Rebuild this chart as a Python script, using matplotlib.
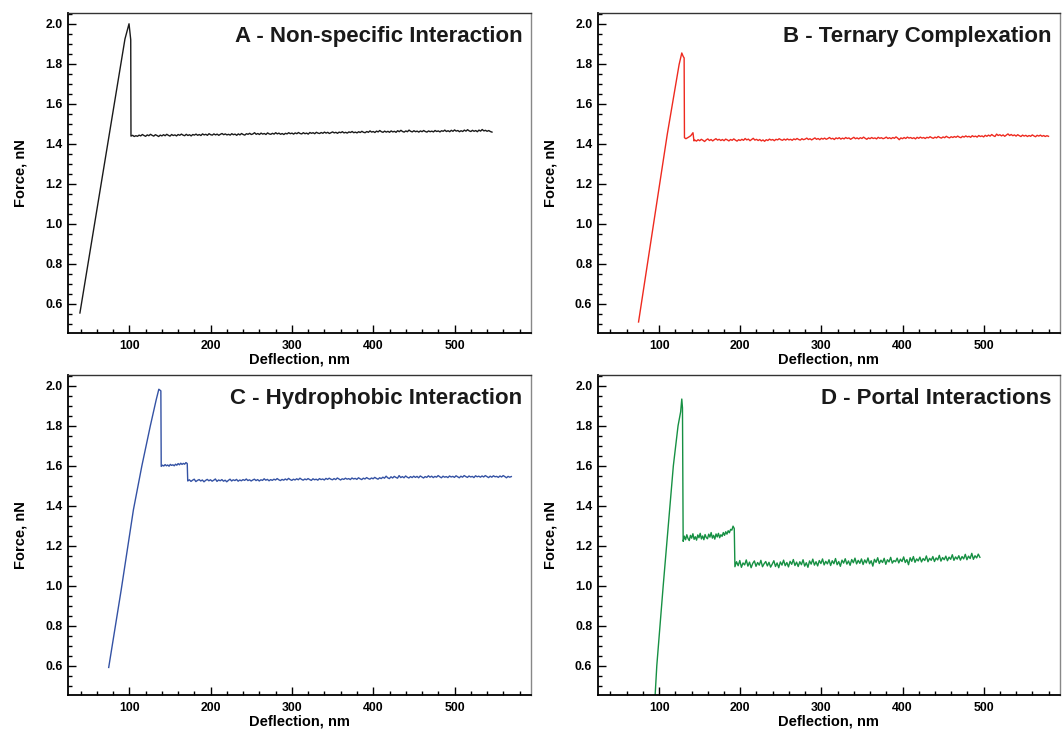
import numpy as np
import matplotlib
matplotlib.use("Agg")
from matplotlib import pyplot as plt
from matplotlib.ticker import MultipleLocator

plt.rcParams['font.family'] = ['Liberation Sans', 'DejaVu Sans']

# ---- panel A: non-specific interaction ----
a_ramp_x = [39.2, 94.6, 99.6, 101.7]
a_ramp_y = [0.553, 1.924, 2.0, 1.92]
a_flat_start, a_flat_step = 102, 2
a_flat_y = [
    1.438, 1.442, 1.436, 1.440, 1.437, 1.443, 1.439, 1.446, 1.441, 1.437, 1.444, 1.440, 1.447, 1.442, 1.438, 1.445, 1.441, 1.436, 1.443, 1.439,
    1.445, 1.440, 1.447, 1.442, 1.438, 1.446, 1.441, 1.444, 1.439, 1.446, 1.442, 1.448, 1.443, 1.440, 1.447, 1.441, 1.445, 1.439, 1.446, 1.443,
    1.448, 1.442, 1.446, 1.441, 1.449, 1.444, 1.447, 1.442, 1.450, 1.445, 1.443, 1.449, 1.444, 1.448, 1.442, 1.447, 1.451, 1.445, 1.449, 1.444,
    1.447, 1.443, 1.450, 1.445, 1.448, 1.442, 1.449, 1.444, 1.451, 1.446, 1.443, 1.450, 1.447, 1.452, 1.446, 1.449, 1.455, 1.447, 1.451, 1.446,
    1.453, 1.448, 1.451, 1.446, 1.454, 1.449, 1.447, 1.452, 1.448, 1.455, 1.449, 1.453, 1.447, 1.451, 1.446, 1.452, 1.449, 1.455, 1.450, 1.453,
    1.448, 1.454, 1.450, 1.456, 1.451, 1.449, 1.455, 1.450, 1.453, 1.448, 1.456, 1.452, 1.455, 1.450, 1.457, 1.453, 1.451, 1.456, 1.452, 1.458,
    1.453, 1.457, 1.451, 1.455, 1.459, 1.454, 1.457, 1.452, 1.458, 1.455, 1.460, 1.454, 1.457, 1.453, 1.459, 1.456, 1.461, 1.455, 1.458, 1.454,
    1.460, 1.456, 1.462, 1.457, 1.455, 1.461, 1.457, 1.464, 1.458, 1.461, 1.456, 1.463, 1.459, 1.466, 1.460, 1.457, 1.463, 1.458, 1.462, 1.457,
    1.464, 1.459, 1.462, 1.457, 1.465, 1.460, 1.467, 1.461, 1.458, 1.464, 1.460, 1.468, 1.462, 1.459, 1.465, 1.460, 1.463, 1.458, 1.464, 1.460,
    1.466, 1.461, 1.458, 1.464, 1.460, 1.463, 1.459, 1.466, 1.461, 1.464, 1.459, 1.465, 1.462, 1.468, 1.461, 1.465, 1.460, 1.467, 1.462, 1.469,
    1.463, 1.466, 1.460, 1.465, 1.461, 1.468, 1.463, 1.470, 1.464, 1.461, 1.467, 1.462, 1.466, 1.460, 1.468, 1.463, 1.471, 1.464, 1.467, 1.462,
    1.466, 1.461, 1.458,
]

# ---- panel B: ternary complexation ----
b_ramp_x = [74.6, 110.0, 124.6, 127.9, 129.6, 130.8, 131.2,
            133.0, 136.0, 139.0, 141.7, 142.9]
b_ramp_y = [0.508, 1.447, 1.796, 1.854, 1.837, 1.829, 1.43,
            1.425, 1.432, 1.440, 1.455, 1.414]
b_flat_start, b_flat_step = 144, 2
b_flat_y = [
    1.418, 1.413, 1.420, 1.415, 1.422, 1.417, 1.411, 1.419, 1.424, 1.416, 1.421, 1.414, 1.420, 1.425, 1.418, 1.422, 1.416, 1.421, 1.415, 1.423,
    1.419, 1.414, 1.421, 1.417, 1.424, 1.418, 1.413, 1.420, 1.416, 1.422, 1.417, 1.426, 1.419, 1.423, 1.415, 1.421, 1.427, 1.418, 1.422, 1.416,
    1.421, 1.414, 1.419, 1.412, 1.420, 1.416, 1.423, 1.418, 1.421, 1.415, 1.422, 1.419, 1.425, 1.420, 1.417, 1.423, 1.418, 1.424, 1.419, 1.422,
    1.417, 1.424, 1.420, 1.426, 1.421, 1.418, 1.425, 1.420, 1.423, 1.428, 1.421, 1.425, 1.419, 1.424, 1.429, 1.422, 1.426, 1.420, 1.427, 1.423,
    1.428, 1.422, 1.426, 1.431, 1.424, 1.427, 1.421, 1.429, 1.425, 1.430, 1.423, 1.428, 1.424, 1.431, 1.426, 1.429, 1.422, 1.427, 1.432, 1.425,
    1.429, 1.424, 1.430, 1.426, 1.433, 1.427, 1.422, 1.429, 1.425, 1.431, 1.426, 1.429, 1.424, 1.432, 1.427, 1.430, 1.425, 1.428, 1.433, 1.426,
    1.430, 1.425, 1.431, 1.427, 1.434, 1.428, 1.420, 1.429, 1.425, 1.431, 1.426, 1.433, 1.428, 1.431, 1.426, 1.430, 1.424, 1.432, 1.427, 1.433,
    1.428, 1.431, 1.426, 1.432, 1.429, 1.435, 1.430, 1.427, 1.433, 1.429, 1.436, 1.431, 1.428, 1.434, 1.430, 1.437, 1.432, 1.429, 1.435, 1.431,
    1.436, 1.432, 1.438, 1.433, 1.430, 1.437, 1.433, 1.439, 1.434, 1.437, 1.432, 1.440, 1.435, 1.438, 1.433, 1.441, 1.436, 1.439, 1.434, 1.442,
    1.437, 1.443, 1.438, 1.446, 1.440, 1.436, 1.448, 1.441, 1.445, 1.439, 1.444, 1.437, 1.443, 1.449, 1.441, 1.446, 1.440, 1.444, 1.438, 1.445,
    1.440, 1.436, 1.443, 1.438, 1.442, 1.436, 1.441, 1.437, 1.444, 1.439, 1.435, 1.442, 1.438, 1.443, 1.437, 1.441, 1.436, 1.440, 1.437,
]

# ---- panel C: hydrophobic interaction ----
c_ramp_x = [74.6, 90.0, 105.0, 115.4, 125.8, 133.0, 136.25, 138.75]
c_ramp_y = [0.591, 0.98, 1.38, 1.6, 1.8, 1.93, 1.983, 1.975]
c_step1_start, c_step1_step = 139.2, 1.6
c_step1_y = [1.597, 1.603, 1.599, 1.606, 1.600, 1.604, 1.598, 1.607, 1.602, 1.605, 1.600,
             1.608, 1.603, 1.611, 1.605, 1.613, 1.607, 1.612, 1.608, 1.616, 1.611]
c_flat_start, c_flat_step = 171.8, 2
c_flat_y = [
    1.524, 1.530, 1.522, 1.528, 1.533, 1.521, 1.527, 1.531, 1.524, 1.529, 1.520, 1.527, 1.532, 1.525, 1.530, 1.523, 1.528, 1.534, 1.522, 1.529,
    1.525, 1.531, 1.523, 1.528, 1.520, 1.527, 1.533, 1.524, 1.530, 1.526, 1.532, 1.523, 1.529, 1.525, 1.531, 1.527, 1.534, 1.526, 1.530, 1.524,
    1.529, 1.533, 1.526, 1.531, 1.524, 1.530, 1.527, 1.535, 1.528, 1.532, 1.525, 1.531, 1.527, 1.533, 1.529, 1.536, 1.530, 1.526, 1.532, 1.528,
    1.534, 1.529, 1.537, 1.531, 1.527, 1.533, 1.529, 1.535, 1.530, 1.538, 1.532, 1.528, 1.534, 1.530, 1.536, 1.531, 1.527, 1.535, 1.530, 1.533,
    1.528, 1.536, 1.531, 1.534, 1.529, 1.537, 1.532, 1.538, 1.533, 1.530, 1.536, 1.531, 1.539, 1.534, 1.529, 1.535, 1.532, 1.538, 1.533, 1.536,
    1.531, 1.539, 1.534, 1.537, 1.532, 1.540, 1.535, 1.531, 1.538, 1.534, 1.541, 1.536, 1.533, 1.539, 1.535, 1.542, 1.537, 1.533, 1.540, 1.536,
    1.543, 1.538, 1.548, 1.540, 1.536, 1.545, 1.539, 1.547, 1.542, 1.538, 1.551, 1.541, 1.546, 1.540, 1.549, 1.543, 1.539, 1.546, 1.541, 1.548,
    1.542, 1.547, 1.540, 1.549, 1.544, 1.539, 1.546, 1.542, 1.550, 1.543, 1.548, 1.541, 1.547, 1.543, 1.551, 1.545, 1.540, 1.548, 1.543, 1.546,
    1.541, 1.549, 1.544, 1.547, 1.542, 1.550, 1.545, 1.540, 1.548, 1.543, 1.551, 1.546, 1.542, 1.549, 1.544, 1.547, 1.541, 1.550, 1.545, 1.548,
    1.543, 1.549, 1.544, 1.551, 1.546, 1.541, 1.548, 1.543, 1.550, 1.545, 1.547, 1.542, 1.549, 1.544, 1.551, 1.546, 1.540, 1.547, 1.543, 1.546,
]

# ---- panel D: portal interactions ----
d_ramp_x = [94.6, 97.1, 105.0, 109.2, 113.3, 117.5, 123.3, 126.5, 127.9, 128.75]
d_ramp_y = [0.42, 0.6, 1.0, 1.2, 1.4, 1.6, 1.8, 1.87, 1.934, 1.89]
d_step1_start, d_step1_step = 129.6, 1.5
d_step1_y = [
    1.222, 1.248, 1.230, 1.255, 1.236, 1.226, 1.252, 1.238, 1.260, 1.232, 1.245, 1.228, 1.254, 1.240, 1.262, 1.234, 1.249, 1.230, 1.256, 1.241,
    1.235, 1.258, 1.243, 1.266, 1.238, 1.252, 1.233, 1.259, 1.244, 1.262, 1.240, 1.255, 1.247, 1.266, 1.252, 1.270, 1.258, 1.275, 1.265, 1.282,
    1.278, 1.298, 1.286,
]
d_flat_start, d_flat_step = 193.4, 2
d_flat_y = [
    1.095, 1.120, 1.100, 1.126, 1.092, 1.114, 1.104, 1.129, 1.098, 1.118, 1.090, 1.112, 1.124, 1.097, 1.116, 1.103, 1.127, 1.095, 1.110, 1.121,
    1.099, 1.117, 1.093, 1.108, 1.125, 1.096, 1.114, 1.090, 1.119, 1.103, 1.128, 1.100, 1.116, 1.094, 1.122, 1.107, 1.131, 1.101, 1.118, 1.096,
    1.120, 1.105, 1.130, 1.098, 1.115, 1.092, 1.124, 1.108, 1.133, 1.103, 1.120, 1.099, 1.126, 1.111, 1.134, 1.104, 1.122, 1.109, 1.130, 1.101,
    1.125, 1.110, 1.136, 1.105, 1.121, 1.097, 1.128, 1.113, 1.135, 1.108, 1.124, 1.102, 1.131, 1.115, 1.138, 1.109, 1.127, 1.112, 1.134, 1.106,
    1.129, 1.114, 1.139, 1.110, 1.125, 1.098, 1.132, 1.117, 1.140, 1.111, 1.128, 1.116, 1.137, 1.107, 1.130, 1.119, 1.142, 1.113, 1.126, 1.120,
    1.138, 1.114, 1.133, 1.121, 1.144, 1.116, 1.131, 1.105, 1.140, 1.122, 1.146, 1.117, 1.134, 1.124, 1.143, 1.119, 1.136, 1.126, 1.149, 1.120,
    1.137, 1.127, 1.146, 1.121, 1.139, 1.129, 1.152, 1.123, 1.141, 1.130, 1.148, 1.125, 1.143, 1.132, 1.155, 1.127, 1.144, 1.133, 1.150, 1.128,
    1.146, 1.134, 1.157, 1.130, 1.148, 1.136, 1.162, 1.132, 1.150, 1.139, 1.158, 1.142,
]

titles = ['A - Non-specific Interaction', 'B - Ternary Complexation',
          'C - Hydrophobic Interaction', 'D - Portal Interactions']
colors = ['#1a1a1a', '#ee2a1f', '#3452a4', '#169043']
x_ticks = [100, 200, 300, 400, 500]
y_ticks = [0.6, 0.8, 1.0, 1.2, 1.4, 1.6, 1.8, 2.0]


def sampled(start, step, values):
    return start + step * np.arange(len(values))


def curve(parts):
    xs, ys = [], []
    for x, y in parts:
        xs.extend(list(x))
        ys.extend(list(y))
    return xs, ys


curves = [
    curve([(a_ramp_x, a_ramp_y),
           (sampled(a_flat_start, a_flat_step, a_flat_y), a_flat_y)]),
    curve([(b_ramp_x, b_ramp_y),
           (sampled(b_flat_start, b_flat_step, b_flat_y), b_flat_y)]),
    curve([(c_ramp_x, c_ramp_y),
           (sampled(c_step1_start, c_step1_step, c_step1_y), c_step1_y),
           (sampled(c_flat_start, c_flat_step, c_flat_y), c_flat_y)]),
    curve([(d_ramp_x, d_ramp_y),
           (sampled(d_step1_start, d_step1_step, d_step1_y), d_step1_y),
           (sampled(d_flat_start, d_flat_step, d_flat_y), d_flat_y)]),
]

fig = plt.figure(figsize=(10.62, 7.31), dpi=100)
boxes = [
    [0.064, 0.5445, 0.436, 0.438],
    [0.563, 0.5445, 0.435, 0.438],
    [0.064, 0.0492, 0.436, 0.438],
    [0.563, 0.0492, 0.435, 0.438],
]

for box, (xs, ys), title, color in zip(boxes, curves, titles, colors):
    ax = fig.add_axes(box)
    ax.plot(xs, ys, color=color, lw=1.0)
    ax.set_xlim(24.5, 594)
    ax.set_ylim(0.453, 2.055)
    ax.xaxis.set_minor_locator(MultipleLocator(20))
    ax.yaxis.set_minor_locator(MultipleLocator(0.05))
    ax.set_xticks(x_ticks)
    ax.set_yticks(y_ticks)
    ax.set_xticklabels([str(t) for t in x_ticks], fontweight='bold')
    ax.set_yticklabels(['%.1f' % t for t in y_ticks], fontweight='bold')
    ax.tick_params(which='both', direction='in', top=False, right=False,
                   width=1.0, labelsize=8.8)
    ax.tick_params(axis='x', pad=5)
    ax.tick_params(axis='y', pad=4)
    ax.tick_params(which='major', length=6)
    ax.tick_params(which='minor', length=3)
    ax.spines['left'].set_linewidth(1.3)
    ax.spines['bottom'].set_linewidth(1.3)
    ax.spines['top'].set_linewidth(1.0)
    ax.spines['top'].set_color('#333333')
    ax.spines['right'].set_linewidth(1.0)
    ax.spines['right'].set_color('#888888')
    ax.set_xlabel('Deflection, nm', fontsize=10.5, fontweight='bold')
    ax.set_ylabel('Force, nN', fontsize=10.5, fontweight='bold')
    ax.xaxis.set_label_coords(0.5, -0.06)
    ax.yaxis.set_label_coords(-0.088, 0.5)
    ax.text(0.981, 0.925, title, transform=ax.transAxes, ha='right', va='center',
            fontsize=16, fontweight='bold', color='#1a1a1a')

fig.savefig('out.png', dpi=100)
